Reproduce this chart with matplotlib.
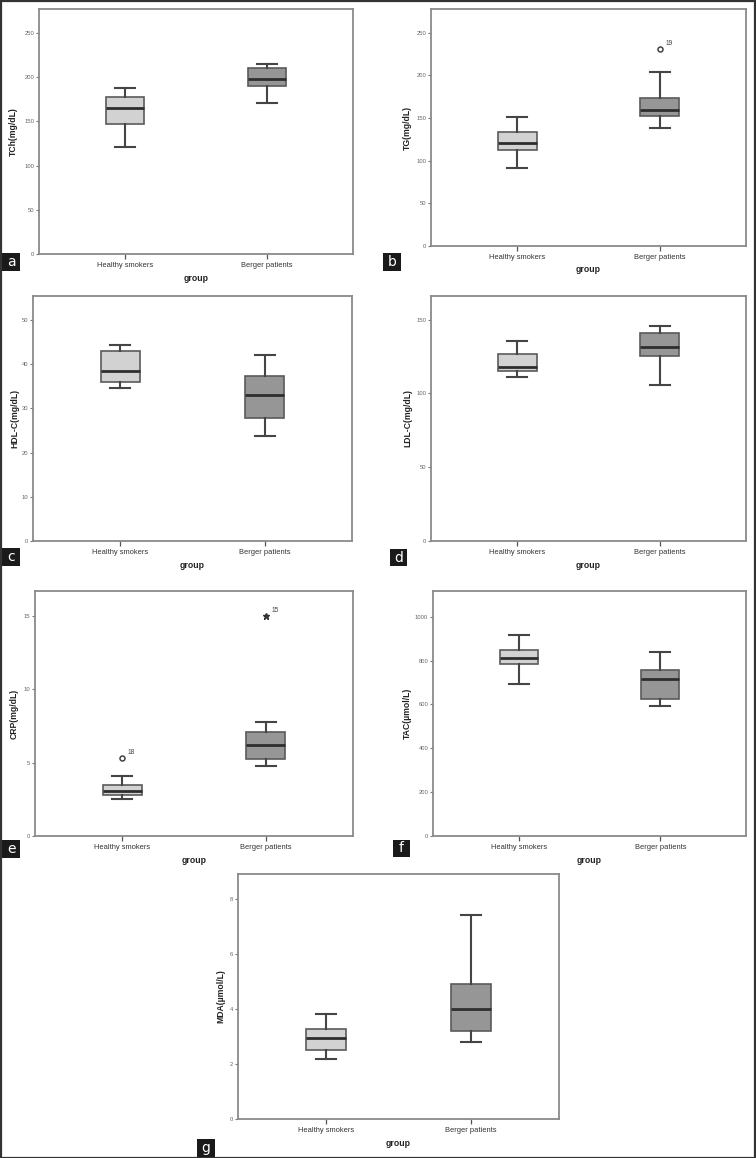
import matplotlib
matplotlib.use("Agg")
import matplotlib.pyplot as plt
from matplotlib.patches import Rectangle

plt.rcParams["font.family"] = ["Liberation Sans", "DejaVu Sans"]

W, H = 756, 1158

groups = ["Healthy smokers", "Berger patients"]
panel_letters = ["a", "b", "c", "d", "e", "f", "g"]
y_labels = ["TCh(mg/dL)", "TG(mg/dL)", "HDL-C(mg/dL)", "LDL-C(mg/dL)",
            "CRP(mg/dL)", "TAC(\u00b5mol/L)", "MDA(\u00b5mol/L)"]

# five-number summaries per group: whisker low, Q1, median, Q3, whisker high
tch_healthy = [121, 147, 165, 178, 188]
tch_berger = [171, 190, 198, 210, 215]
tg_healthy = [92, 113, 121, 134, 151]
tg_berger = [139, 152, 160, 174, 204]
hdl_healthy = [34.6, 36.0, 38.4, 42.9, 44.4]
hdl_berger = [23.8, 27.9, 33.0, 37.2, 42.0]
ldl_healthy = [111.0, 115.1, 117.8, 126.7, 135.3]
ldl_berger = [105.8, 125.3, 131.7, 140.7, 145.7]
crp_healthy = [2.50, 2.77, 3.09, 3.47, 4.08]
crp_berger = [4.77, 5.22, 6.17, 7.08, 7.78]
tac_healthy = [695, 783, 811, 848, 915]
tac_berger = [592, 623, 714, 759, 838]
mda_healthy = [2.18, 2.50, 2.95, 3.28, 3.81]
mda_berger = [2.79, 3.20, 4.01, 4.91, 7.41]

# outliers: (panel, group index, value, case label, marker)
outliers = [
    (1, 1, 231, "19", "o"),
    (4, 0, 5.31, "18", "o"),
    (4, 1, 15.0, "15", "*"),
]

y_ticks = [
    [0, 50, 100, 150, 200, 250],
    [0, 50, 100, 150, 200, 250],
    [0, 10, 20, 30, 40, 50],
    [0, 50, 100, 150],
    [0, 5, 10, 15],
    [0, 200, 400, 600, 800, 1000],
    [0, 2, 4, 6, 8],
]
y_tops = [277, 278, 55.4, 166, 16.7, 1117, 8.9]

summaries = [
    (tch_healthy, tch_berger), (tg_healthy, tg_berger),
    (hdl_healthy, hdl_berger), (ldl_healthy, ldl_berger),
    (crp_healthy, crp_berger), (tac_healthy, tac_berger),
    (mda_healthy, mda_berger),
]

# layout in pixels: axes (left, top, right, bottom), y-label x, group label y,
# letter box (left, top, size)
axes_px = [
    (39, 9, 353, 254), (431, 9, 746, 246),
    (33, 296, 352, 541), (431, 296, 746, 541),
    (35, 591, 353, 836), (433, 591, 746, 836),
    (238, 874, 559, 1119),
]
ylabel_x = [18, 412, 19, 412, 19, 412, 225]
group_y = [274, 265, 561, 561, 856, 856, 1139]
letter_px = [(2, 253, 18), (383, 253, 18), (2, 548, 18), (390, 549, 17),
             (2, 840, 18), (393, 840, 17), (197, 1139, 18)]

fills = ["#d2d2d2", "#969696"]
line_col = "#454545"
frame_col = "#8a8a8a"

fig = plt.figure(figsize=(W / 100, H / 100), dpi=100)
fig.patch.set_facecolor("white")

for i, (l, t, r, b) in enumerate(axes_px):
    ax = fig.add_axes([l / W, 1 - b / H, (r - l) / W, (b - t) / H])
    stats = []
    for g, s in enumerate(summaries[i]):
        fl = [o[2] for o in outliers if o[0] == i and o[1] == g]
        stats.append({"whislo": s[0], "q1": s[1], "med": s[2], "q3": s[3],
                      "whishi": s[4], "fliers": []})
    bp = ax.bxp(stats, positions=[1, 2], widths=0.27, patch_artist=True,
                showfliers=False,
                boxprops=dict(edgecolor="#5a5a5a", linewidth=1.2),
                whiskerprops=dict(color=line_col, linewidth=1.5),
                capprops=dict(color=line_col, linewidth=1.5),
                medianprops=dict(color="#2e2e2e", linewidth=2.0),
                capwidths=0.14)
    for patch, c in zip(bp["boxes"], fills):
        patch.set_facecolor(c)

    for p, g, v, lab, m in outliers:
        if p != i:
            continue
        if m == "o":
            ax.plot(g + 1, v, marker="o", ms=3.6, mfc="white", mec="#444444",
                    mew=1.1, ls="none")
        else:
            ax.plot(g + 1, v, marker="*", ms=4.5, color="#333333", ls="none")
        ax.annotate(lab, (g + 1, v), xytext=(4, 3), textcoords="offset points",
                    fontsize=4.8, color="#444444")

    ax.set_xlim(0.394, 2.606)
    ax.set_ylim(0, y_tops[i])
    ax.set_xticks([1, 2])
    ax.set_xticklabels(groups, fontsize=5.4, color="#333333")
    ax.set_yticks(y_ticks[i])
    ax.set_yticklabels([str(v) for v in y_ticks[i]], fontsize=4.2,
                       color="#666666")
    ax.tick_params(axis="x", length=3.5, width=0.9, color="#555555", pad=2)
    ax.tick_params(axis="y", length=2.5, width=0.8, color="#777777", pad=1)
    for sp in ax.spines.values():
        sp.set_color(frame_col)
        sp.set_linewidth(1.3)

    ax.set_ylabel(y_labels[i], fontsize=6.2, fontweight="bold",
                  color="#222222")
    ax.yaxis.set_label_coords((ylabel_x[i] - l) / (r - l), 0.5)
    ax.set_xlabel("group", fontsize=6.3, fontweight="bold", color="#222222")
    ax.xaxis.set_label_coords(0.5, (b - group_y[i]) / (b - t))

    lx, ly, sz = letter_px[i]
    fig.add_artist(Rectangle((lx / W, 1 - (ly + sz) / H), sz / W, sz / H,
                             transform=fig.transFigure, facecolor="#1a1a1a",
                             edgecolor="none"))
    fig.text((lx + sz / 2) / W, 1 - (ly + sz / 2) / H, panel_letters[i],
             color="white", fontsize=10, ha="center", va="center",
             family=["DejaVu Sans"])

# outer border of the whole figure
fig.add_artist(Rectangle((0.5 / W, 0.5 / H), 1 - 1.5 / W, 1 - 1.5 / H,
                         transform=fig.transFigure, fill=False,
                         edgecolor="#333333", linewidth=1.6))

fig.savefig("out.png", dpi=100)
